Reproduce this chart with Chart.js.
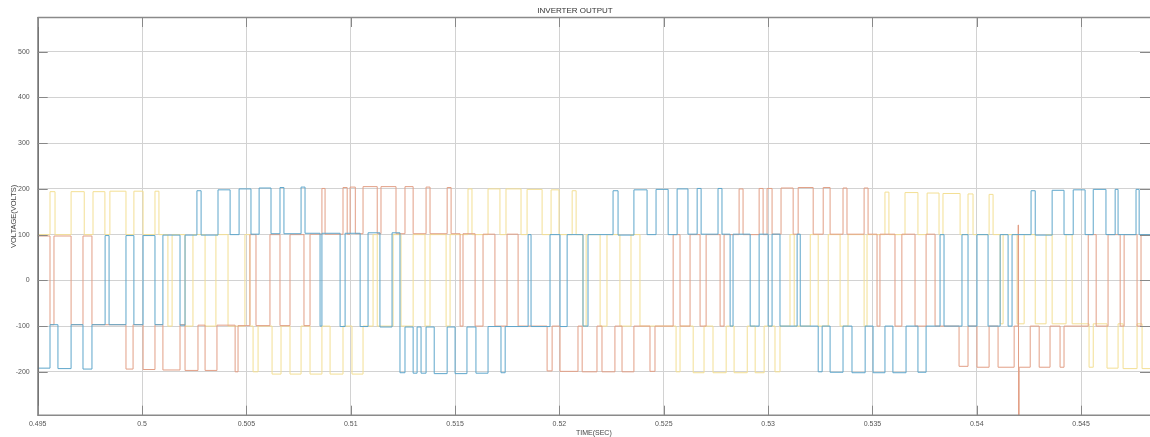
<!DOCTYPE html>
<html>
<head>
<meta charset="utf-8">
<script src="https://cdn.jsdelivr.net/npm/chart.js@4.4.0/dist/chart.umd.min.js"></script>
<style>
  html, body { margin: 0; padding: 0; background: #fff; }
  #wrap { width: 1150px; height: 437px; position: relative; }
</style>
</head>
<body>
<div id="wrap"><canvas id="c"></canvas></div>
<script>
// Phase voltages of the inverter: each series is a step waveform given as
// switching instants (ms) and the level (V) held from that instant on.
const phaseATimeMs = [495.00,495.59,495.97,496.60,497.17,497.60,498.23,498.42,499.23,499.61,500.05,500.62,501.00,501.82,502.06,
  502.63,502.83,503.64,504.22,504.65,505.22,505.61,506.18,506.61,506.80,507.62,507.81,
  508.53,508.62,509.49,509.73,510.45,510.83,511.40,511.98,
  512.36,512.60,512.99,513.18,513.37,513.61,514.00,514.62,515.00,515.57,516.00,516.58,517.20,517.40,
  518.50,518.64,519.55,520.03,520.37,521.13,521.37,
  522.57,522.81,523.57,524.20,524.63,525.21,525.64,526.16,526.60,526.79,527.60,527.79,
  528.18,528.32,529.14,529.57,530.00,530.19,530.57,531.39,531.54,
  532.40,532.59,532.97,533.59,534.02,534.65,535.03,535.60,535.98,536.61,537.18,537.57,
  538.24,538.43,539.29,539.58,540.01,540.54,541.12,541.50,541.69,
  542.60,542.80,543.61,544.18,544.62,545.19,545.58,546.19,546.63,546.77,547.63,547.78,548.30];
const phaseAVolts = [-192,-97,-193,-97,-194,-97,98,-97,98,-97,98,-97,99,-98,99,
  196,99,198,100,200,101,202,102,203,102,204,103,
  -100,103,-101,103,-101,104,-102,104,
  -202,-102,-203,-102,-203,-102,-204,-102,-204,-102,-203,-101,-202,-101,
  100,-101,100,-101,100,-100,100,
  196,99,198,100,199,100,200,101,201,101,201,101,
  -100,101,-100,101,-100,101,-100,101,-100,
  -200,-100,-201,-100,-202,-100,-202,-100,-202,-100,-201,-100,
  100,-100,100,-100,100,-100,100,-100,100,
  196,99,197,100,198,100,199,100,199,100,199,100,100];

const phaseBTimeMs = [495.00,495.59,495.78,496.60,497.17,497.60,
  499.23,499.57,500.05,500.62,501.00,501.82,502.06,502.68,503.02,503.59,504.46,504.60,
  505.17,505.46,506.13,506.61,507.09,507.76,508.05,
  508.62,508.77,509.63,509.83,509.97,510.22,510.59,511.27,511.45,512.17,512.60,512.99,513.61,513.80,514.62,514.81,
  515.24,515.38,515.96,516.34,516.91,517.49,518.02,
  519.41,519.65,520.03,520.89,521.09,521.80,522.04,522.66,523.00,523.57,524.34,524.58,
  525.45,525.78,526.26,526.74,527.03,527.70,527.89,
  528.61,528.80,529.57,529.76,529.95,530.19,530.62,531.20,531.44,532.16,532.64,532.97,533.59,533.78,534.60,534.79,
  535.22,535.36,536.08,536.41,537.04,537.57,538.00,
  539.15,539.58,540.01,540.59,541.02,541.79,541.98,542.00,542.03,542.56,542.99,543.51,543.99,544.18,
  545.34,545.72,546.29,546.87,547.06,547.68,547.87,548.30];
const phaseBVolts = [97,-97,97,-97,97,-97,
  -194,-97,-195,-97,-196,-97,-197,-98,-197,-98,-200,-99,
  100,-99,100,-99,100,-99,101,
  201,101,203,101,204,102,205,102,205,102,205,102,204,102,203,102,
  -100,102,-100,101,-100,101,-100,
  -198,-100,-199,-100,-200,-100,-200,-100,-200,-100,-199,-100,
  100,-100,100,-100,100,-100,100,
  200,100,201,100,201,101,202,101,203,101,203,101,202,101,202,101,
  -100,101,-100,101,-100,101,-100,
  -188,-100,-190,-100,-190,-100,121,-330,-190,-100,-190,-100,-190,-100,
  100,-100,100,-100,100,-100,100,100];

const phaseCTimeMs = [495.00,495.59,495.83,496.60,497.23,497.65,498.22,498.46,499.23,499.61,500.05,500.62,500.81,
  501.24,501.44,502.06,502.44,503.02,503.54,504.12,504.93,505.17,
  505.32,505.56,506.23,506.66,507.09,507.62,508.05,508.62,509.01,509.63,510.06,510.59,
  511.07,511.27,512.03,512.41,512.99,513.56,513.80,514.57,514.76,
  515.62,515.81,516.58,517.15,517.44,518.16,518.45,519.17,519.60,519.98,520.61,520.80,
  521.13,521.28,521.95,522.28,522.90,523.43,523.86,
  525.59,525.78,526.41,526.93,527.36,527.99,528.37,529.00,529.38,529.81,530.33,530.57,
  531.05,531.25,532.02,532.40,532.88,533.45,533.83,534.60,534.74,
  535.60,535.79,536.56,537.18,537.62,538.19,538.38,539.20,539.58,539.82,540.59,540.78,
  541.12,541.26,541.93,542.27,542.80,543.32,543.61,544.28,544.57,
  545.38,545.58,546.24,546.77,547.01,547.68,547.92,548.30];
const phaseCVolts = [100,194,100,194,100,194,100,195,100,195,100,195,100,
  -100,100,-100,100,-100,100,-100,100,-100,
  -200,-100,-205,-100,-205,-100,-205,-100,-205,-100,-205,-100,
  100,-100,100,-100,100,-100,100,-100,100,
  200,100,200,100,200,100,199,100,198,100,196,100,
  -100,100,-100,100,-100,100,-100,
  -200,-100,-202,-100,-202,-100,-202,-100,-202,-100,-200,-100,
  100,-100,100,-100,100,-100,100,-100,100,
  193,100,192,100,191,100,190,100,189,100,188,100,
  -95,100,-95,100,-95,100,-95,100,-95,
  -190,-95,-192,-95,-193,-95,-193,-193];

// Axis ticks
const xTickValues = [0.495,0.5,0.505,0.51,0.515,0.52,0.525,0.53,0.535,0.54,0.545];
const xTickLabels = ['0.495','0.5','0.505','0.51','0.515','0.52','0.525','0.53','0.535','0.54','0.545'];
const yTickValues = [-200,-100,0,100,200,300,400,500];

const toPoints = (times, volts) => times.map((t, i) => ({ x: t / 1000, y: volts[i] }));

const font = 'Liberation Sans, Arial, Helvetica, sans-serif';

// Box outline and inward tick marks in the style of a scope/figure axes
const axesFrame = {
  id: 'axesFrame',
  afterDatasetsDraw(chart) {
    const { ctx, chartArea: a, scales } = chart;
    ctx.save();
    ctx.strokeStyle = '#8a8a8a';
    ctx.lineWidth = 1.5;
    ctx.beginPath();
    ctx.moveTo(a.left, a.top + 0.5); ctx.lineTo(a.right, a.top + 0.5);
    ctx.moveTo(a.left, a.bottom - 0.5); ctx.lineTo(a.right, a.bottom - 0.5);
    ctx.stroke();
    ctx.strokeStyle = '#6e6e6e';
    ctx.beginPath();
    ctx.moveTo(a.left + 0.5, a.top); ctx.lineTo(a.left + 0.5, a.bottom);
    ctx.stroke();
    ctx.strokeStyle = '#888';
    ctx.lineWidth = 1;
    ctx.beginPath();
    xTickValues.forEach(v => {
      const px = Math.round(scales.x.getPixelForValue(v)) + 0.5;
      ctx.moveTo(px, a.top); ctx.lineTo(px, a.top + 10);
      ctx.moveTo(px, a.bottom); ctx.lineTo(px, a.bottom - 10);
    });
    yTickValues.forEach(v => {
      const py = Math.round(scales.y.getPixelForValue(v)) + 0.5;
      ctx.moveTo(a.left, py); ctx.lineTo(a.left + 10, py);
      ctx.moveTo(a.right, py); ctx.lineTo(a.right - 10, py);
    });
    ctx.stroke();
    ctx.restore();
  }
};

const lineStyle = (label, color, pts) => ({
  label, data: pts, borderColor: color, borderWidth: 1,
  stepped: true, pointRadius: 0, fill: false, tension: 0
});

new Chart(document.getElementById('c'), {
  type: 'line',
  data: {
    datasets: [
      lineStyle('Phase A', '#5ea6cb', toPoints(phaseATimeMs, phaseAVolts)),
      lineStyle('Phase B', '#e29f86', toPoints(phaseBTimeMs, phaseBVolts)),
      lineStyle('Phase C', '#f3df94', toPoints(phaseCTimeMs, phaseCVolts))
    ]
  },
  options: {
    responsive: true,
    maintainAspectRatio: false,
    animation: false,
    devicePixelRatio: 1,
    layout: { padding: 0 },
    plugins: {
      legend: { display: false },
      tooltip: { enabled: false },
      title: {
        display: true, text: 'INVERTER OUTPUT', color: '#333',
        font: { family: font, size: 8, weight: 'normal' },
        padding: { top: 6.2, bottom: 1.2 }
      }
    },
    scales: {
      x: {
        type: 'linear', min: 0.495, max: 0.5483,
        afterBuildTicks: s => { s.ticks = xTickValues.map(v => ({ value: v })); },
        afterFit: s => { s.height = 21.3; },
        ticks: {
          autoSkip: false, maxRotation: 0, padding: 4, color: '#555',
          font: { family: font, size: 7 },
          callback: (v, i) => xTickLabels[i]
        },
        grid: { color: '#d2d2d2', lineWidth: 1, drawTicks: false },
        border: { display: false },
        title: { display: true, text: 'TIME(SEC)', color: '#444', font: { family: font, size: 7 }, padding: 0 }
      },
      y: {
        type: 'linear', min: -296, max: 576,
        afterBuildTicks: s => { s.ticks = yTickValues.map(v => ({ value: v })); },
        afterFit: s => { s.width = 37.7; },
        ticks: { padding: 8, color: '#555', font: { family: font, size: 7 } },
        grid: { color: '#d2d2d2', lineWidth: 1, drawTicks: false },
        border: { display: false },
        title: { display: true, text: 'VOLTAGE(VOLTS)', color: '#444', font: { family: font, size: 7.5 }, padding: { top: 9, bottom: 0 } }
      }
    }
  },
  plugins: [axesFrame]
});
</script>
</body>
</html>
